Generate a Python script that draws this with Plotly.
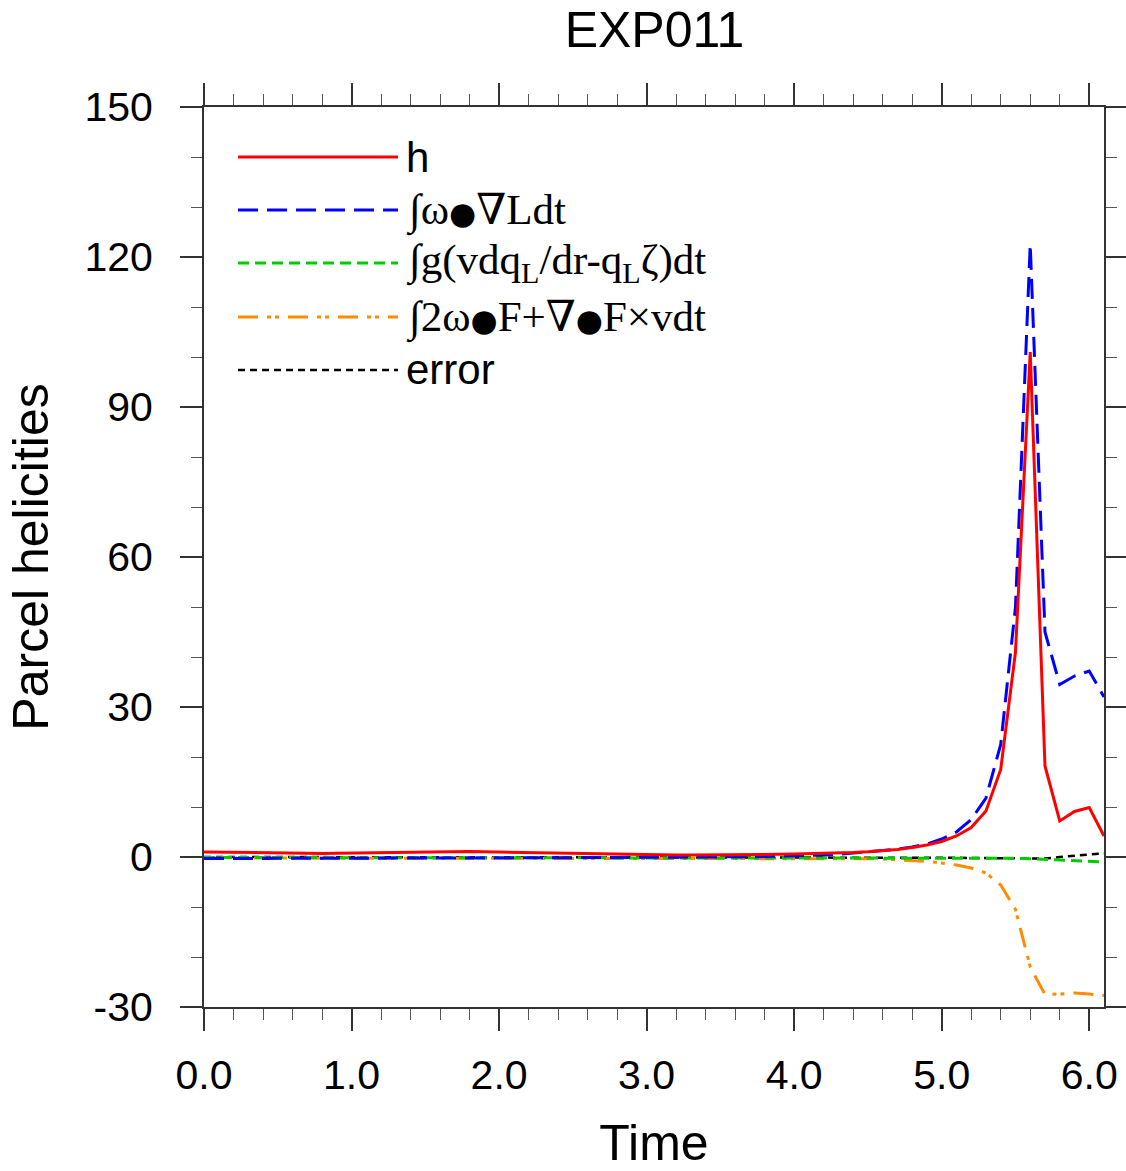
import plotly.graph_objects as go

time = [round(0.1 * i, 1) for i in range(62)]

h = [1.0, 0.95, 0.9, 0.85, 0.8, 0.75, 0.7, 0.7, 0.72, 0.75,
     0.8, 0.85, 0.9, 0.95, 1.0, 1.05, 1.08, 1.1, 1.08, 1.05,
     1.0, 0.95, 0.9, 0.82, 0.75, 0.7, 0.62, 0.55, 0.5, 0.45,
     0.42, 0.4, 0.4, 0.4, 0.4, 0.42, 0.45, 0.48, 0.5, 0.55,
     0.6, 0.65, 0.7, 0.8, 0.9, 1.05, 1.25, 1.5, 1.9, 2.4,
     3.1, 4.2, 5.9, 9.2, 17.5, 41.0, 101.0, 18.2, 7.2, 9.1,
     9.9, 4.2]

vort = [-0.3, -0.3, -0.3, -0.3, -0.3, -0.3, -0.3, -0.3, -0.3, -0.3,
        -0.3, -0.3, -0.3, -0.3, -0.3, -0.25, -0.25, -0.2, -0.2, -0.2,
        -0.2, -0.2, -0.2, -0.15, -0.15, -0.15, -0.1, -0.1, -0.1, -0.1,
        -0.1, -0.1, -0.1, -0.05, -0.05, 0.0, 0.0, 0.05, 0.1, 0.15,
        0.2, 0.3, 0.4, 0.55, 0.75, 1.0, 1.3, 1.6, 2.0, 2.6,
        3.6, 5.0, 7.5, 11.8, 22.5, 50.0, 122.5, 45.0, 34.5, 36.2,
        37.2, 32.0]

buoy = [-0.1, -0.1, -0.1, -0.1, -0.1, -0.1, -0.1, -0.1, -0.1, -0.1,
        -0.1, -0.1, -0.1, -0.1, -0.1, -0.1, -0.1, -0.1, -0.1, -0.1,
        -0.1, -0.1, -0.1, -0.1, -0.1, -0.1, -0.1, -0.1, -0.1, -0.1,
        -0.1, -0.1, -0.1, -0.1, -0.1, -0.1, -0.1, -0.1, -0.1, -0.1,
        -0.1, -0.1, -0.15, -0.15, -0.15, -0.15, -0.15, -0.15, -0.15, -0.15,
        -0.15, -0.15, -0.2, -0.2, -0.2, -0.25, -0.35, -0.5, -0.65, -0.8,
        -0.9, -1.0]

fric = [-0.2, -0.2, -0.2, -0.2, -0.2, -0.2, -0.2, -0.2, -0.2, -0.2,
        -0.2, -0.2, -0.2, -0.2, -0.2, -0.2, -0.2, -0.2, -0.2, -0.2,
        -0.2, -0.2, -0.2, -0.2, -0.2, -0.2, -0.2, -0.2, -0.2, -0.2,
        -0.2, -0.2, -0.2, -0.2, -0.2, -0.2, -0.2, -0.2, -0.2, -0.2,
        -0.2, -0.22, -0.25, -0.28, -0.3, -0.35, -0.4, -0.55, -0.7, -0.9,
        -1.2, -1.6, -2.2, -3.2, -5.6, -10.5, -22.0, -27.5, -27.4, -27.2,
        -27.4, -27.7]

error = [0.0, 0.0, 0.0, 0.0, 0.0, 0.0, 0.0, 0.0, 0.0, 0.0,
         0.0, 0.0, 0.0, 0.0, 0.0, 0.0, 0.0, 0.0, 0.0, 0.0,
         0.0, 0.0, 0.0, 0.0, 0.0, 0.0, 0.0, 0.0, 0.0, 0.0,
         0.0, 0.0, 0.0, 0.0, -0.05, -0.05, -0.05, -0.05, -0.05, -0.05,
         -0.05, -0.05, -0.05, -0.05, -0.05, -0.05, -0.1, -0.1, -0.1, -0.1,
         -0.15, -0.15, -0.2, -0.2, -0.25, -0.3, -0.3, -0.3, 0.0, 0.3,
         0.5, 0.7]

bullet = "<span style='font-family:DejaVu Sans;font-size:31px'>●</span>"
nabla = "<span style='font-family:DejaVu Serif;font-weight:normal'>∇</span>"
labels = ["h",
          "∫ω" + bullet + nabla + "Ldt",
          "∫g(vdq<sub>L</sub>/dr-q<sub>L</sub>ζ)dt",
          "∫2ω" + bullet + "F+" + nabla + bullet + "F×vdt",
          "error"]
label_fonts = ["Liberation Sans", "Liberation Serif", "Liberation Serif",
               "Liberation Serif", "Liberation Sans"]
label_sizes = [42, 43, 43, 43, 42]
colors = ["#ff0000", "#0000ff", "#00cc00", "#ff8c00", "#000000"]
dashes = ["solid", "20px,9px", "11px,6px", "20px,9px,4px,4px,4px,9px", "7px,5px"]
widths = [3, 3, 3, 3, 2.5]
series = [h, vort, buoy, fric, error]

x_ticks = [0, 1, 2, 3, 4, 5, 6]
x_ticklabels = ["0.0", "1.0", "2.0", "3.0", "4.0", "5.0", "6.0"]
y_ticks = [-30, 0, 30, 60, 90, 120, 150]
y_ticklabels = ["-30", "0", "30", "60", "90", "120", "150"]

fig = go.Figure()
order = [4, 3, 2, 1, 0]
for i in order:
    fig.add_trace(go.Scatter(
        x=time, y=series[i], mode="lines",
        line=dict(color=colors[i], width=widths[i], dash=dashes[i]),
        showlegend=False, hoverinfo="skip"))

# manual NCL-style legend
leg_y = [0.9444, 0.8856, 0.8267, 0.7667, 0.7078]
for i in range(5):
    fig.add_shape(type="line", xref="paper", yref="paper",
                  x0=0.0378, x1=0.2156, y0=leg_y[i], y1=leg_y[i],
                  line=dict(color=colors[i], width=widths[i], dash=dashes[i]))
    fig.add_annotation(xref="paper", yref="paper", x=0.2222, y=leg_y[i],
                       xanchor="left", yanchor="middle", showarrow=False,
                       text=labels[i],
                       font=dict(family=label_fonts[i], size=label_sizes[i], color="black"))

axis_common = dict(
    showline=True, linecolor="#333333", linewidth=2, mirror="allticks",
    ticks="outside", ticklen=22, tickwidth=1.5, tickcolor="#333333",
    showgrid=False, zeroline=False, automargin=False,
    tickfont=dict(family="Liberation Sans", size=41, color="black"),
)

fig.update_xaxes(
    range=[0, 6.1], tickvals=x_ticks, ticktext=x_ticklabels,
    minor=dict(dtick=0.2, ticklen=11, tickwidth=1.2, tickcolor="#555555", ticks="outside"),
    title=dict(text="Time", font=dict(family="Liberation Sans", size=50, color="black"), standoff=30),
    ticklabelstandoff=9,
    **axis_common)
fig.update_yaxes(
    range=[-30, 150], tickvals=y_ticks, ticktext=y_ticklabels,
    minor=dict(dtick=10, ticklen=11, tickwidth=1.2, tickcolor="#555555", ticks="outside"),
    title=dict(text="Parcel helicities", font=dict(family="Liberation Sans", size=50, color="black"), standoff=20),
    ticklabelstandoff=19,
    **axis_common)

fig.update_layout(
    width=1126, height=1171,
    margin=dict(l=204, r=22, t=107, b=164),
    paper_bgcolor="white", plot_bgcolor="white",
    title=dict(text="EXP011", x=0.5813, xanchor="center", y=0.975, yanchor="middle",
               font=dict(family="Liberation Sans", size=50, color="black")),
)

fig.write_html("out.html")
